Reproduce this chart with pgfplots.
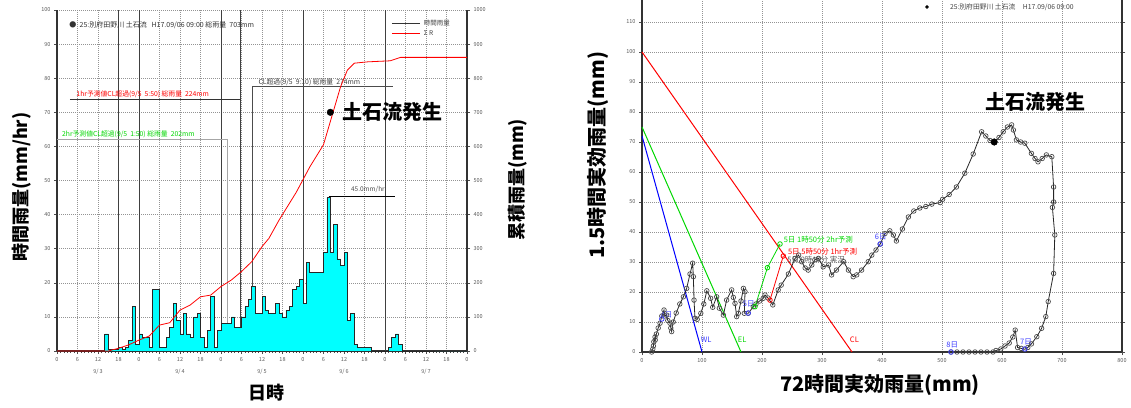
\documentclass[border=0pt]{standalone}
\usepackage{pgfplots}
\pgfplotsset{compat=1.18}
\usepackage{fontspec}
\setmainfont{Noto Sans CJK JP}
\definecolor{lgreen}{RGB}{0,215,0}
\definecolor{lblue}{RGB}{60,60,255}
\definecolor{tickgray}{RGB}{90,90,90}
\definecolor{hist}{RGB}{0,255,255}
\begin{document}
\begin{tikzpicture}
\path[use as bounding box] (0pt,0pt) rectangle (1131pt,407pt);
\pgfplotsset{
 every axis/.append style={
  scale only axis, anchor=south west,
  tick label style={font=\fontsize{5.5}{6}\selectfont, text=tickgray},
  /pgf/number format/assume math mode=true,
  /pgf/number format/1000 sep={},
  grid style={gray!85, line width=0.5pt, dash pattern=on 1pt off 1pt},
  axis line style={line width=1.3pt, black!80},
  tick style={black!70, line width=0.5pt},
  tick align=outside,
  major tick length=3pt, minor tick length=2pt,
 }
}
% ---------------- left panel: hourly rainfall ----------------
\begin{axis}[at={(57pt,56pt)}, width=410pt, height=341pt,
 xmin=0,xmax=120,ymin=0,ymax=100,
 axis x line*=bottom, axis y line*=left,
 xtick={0,6,...,120},
 xticklabels={0,6,12,18,0,6,12,18,0,6,12,18,0,6,12,18,0,6,12,18,0},
 minor x tick num=5,
 ytick={0,10,...,100},
 grid=major, clip=false]
% day / event lines
\addplot[black!75, line width=1pt] coordinates {(18,0) (18,100)};
\addplot[black!75, line width=1pt] coordinates {(24,0) (24,100)};
\addplot[black!75, line width=1pt] coordinates {(48,0) (48,100)};
\addplot[black!75, line width=1pt] coordinates {(53.83,0) (53.83,100)};
\addplot[black!75, line width=1pt] coordinates {(72,0) (72,100)};
\addplot[black!75, line width=1pt] coordinates {(96,0) (96,100)};
\addplot[black!80, line width=0.7pt] coordinates {(3.8,73.9) (53.83,73.9)};
\addplot[gray!70, line width=0.7pt] coordinates {(0,62.1) (49.83,62.1) (49.83,0)};
\addplot[black!70, line width=0.6pt] coordinates {(57.17,0) (57.17,77.5) (98.4,77.5)};
% histogram
\addplot[const plot, fill=hist, draw=black!85, line width=0.8pt] coordinates {
(0,0) (14,5) (15,0.5) (18,1) (19,0.5) (20,1) (21,3) (22,13) (23,2) (24,5) (25,4)
(27,1) (28,18) (30,1) (32,4) (33,7) (34,14) (35,9) (36,5) (37,11) (38,5) (39,4)
(40,10) (41,11) (42,4) (43,1) (44,6) (45,16) (46,1) (47,6) (48,8) (51,10) (52,7)
(54,10) (55,13) (56,15) (57,19) (58,11) (60,16) (61,12) (62,11) (64,14) (65,11)
(66,10) (67,12) (68,13) (69,18) (70,19) (71,21) (72,14) (73,26) (74,23) (78,29)
(79,45) (80,29) (81,37) (82,27) (83,25) (84,29) (85,9) (86,11) (87,2) (88,1)
(92,0) (97,1) (98,4) (99,5) (100,2) (101,0) (120,0)} \closedcycle;
\addplot[black, line width=0.6pt] coordinates {(79.5,45.3) (99,45.3)};
\node[font=\fontsize{6.5}{7}\selectfont, text=black!70] at (axis cs:91,47.4) {45.0mm/hr};
% annotations
\node[anchor=south west, inner sep=0.5pt, font=\fontsize{6.8}{7}\selectfont, text=red] at (axis cs:5.5,74.1) {1hr予測値CL超過(9/5\ \ 5:50) 総雨量\ \ 224mm};
\node[anchor=south west, inner sep=0.5pt, font=\fontsize{6.8}{7}\selectfont, text=lgreen] at (axis cs:1.3,62.3) {2hr予測値CL超過(9/5\ \ 1:50) 総雨量\ \ 202mm};
\node[anchor=south west, inner sep=0.5pt, font=\fontsize{6.8}{7}\selectfont, text=black!75] at (axis cs:58.8,77.7) {CL超過(9/5\ \ 9:10) 総雨量\ \ 274mm};
\node[anchor=west, inner sep=0, font=\fontsize{7}{7}\selectfont, text=black!80] at (axis cs:3.6,95.6) {●\ \ 25:別府田野川\ 土石流\ \ \ H17.09/06\ 09:00\ 総雨量\ \ 703mm};
% legend
\addplot[black!80, line width=0.8pt] coordinates {(98,96.1) (106.3,96.1)};
\addplot[red, line width=0.8pt] coordinates {(98,93.1) (106.3,93.1)};
\node[anchor=west, inner sep=0, font=\fontsize{6.5}{7}\selectfont, text=black!75] at (axis cs:107.3,96.1) {時間雨量};
\node[anchor=west, inner sep=0, font=\fontsize{6.5}{7}\selectfont, text=black!75] at (axis cs:107.3,93.1) {Σ R};
% dates
\node[font=\fontsize{5.5}{6}\selectfont, text=tickgray, yshift=-21pt] at (axis cs:12,0) {9/ 3};
\node[font=\fontsize{5.5}{6}\selectfont, text=tickgray, yshift=-21pt] at (axis cs:36,0) {9/ 4};
\node[font=\fontsize{5.5}{6}\selectfont, text=tickgray, yshift=-21pt] at (axis cs:60,0) {9/ 5};
\node[font=\fontsize{5.5}{6}\selectfont, text=tickgray, yshift=-21pt] at (axis cs:84,0) {9/ 6};
\node[font=\fontsize{5.5}{6}\selectfont, text=tickgray, yshift=-21pt] at (axis cs:108,0) {9/ 7};
\node[anchor=west, font=\bfseries\fontsize{20}{20}\selectfont] at (axis cs:82.5,70.2) {土石流発生};
\end{axis}
% cumulative rainfall (right axis)
\begin{axis}[at={(57pt,56pt)}, width=410pt, height=341pt,
 xmin=0,xmax=120,ymin=0,ymax=1000,
 axis y line*=right, axis x line=none,
 ytick={0,100,...,1000}]
\addplot[red, line width=0.8pt] coordinates {
(0,0) (15,0) (18,8) (21,18) (24,32) (27,44) (30,76) (33,83) (36,120) (39,135)
(42,159) (45,164) (48,189) (51,208) (54,233) (57,262) (60,306) (62,330) (65,384)
(70,465) (74,540) (78,605) (80.5,690) (83,775) (85,824) (87,844) (91,848)
(97.5,851) (100.5,861) (120,861)};
\addplot[only marks, mark=*, mark size=3.3pt, black] coordinates {(80,700)};
\end{axis}
% ---------------- right panel: snake line ----------------
\begin{axis}[at={(642pt,55pt)}, width=480pt, height=352pt,
 xmin=0,xmax=800,ymin=0,ymax=117.33,
 axis x line*=bottom, axis y line*=box,
 xtick={0,100,...,800}, ytick={0,10,...,110},
 grid=major, clip=false]
\addplot[red, line width=1pt] coordinates {(0,100) (350,0)};
\addplot[lgreen, line width=1pt] coordinates {(0,75) (165,0)};
\addplot[blue, line width=1pt] coordinates {(0,72) (100,0)};
\addplot[black!85, line width=0.8pt, mark=o, mark size=2.3pt, mark options={black!70, line width=0.7pt}] coordinates {
(16,0) (18,1) (19,2) (19.7,3.4) (21.7,5) (22,4) (24,6) (27,8) (30,9.6) (33,12)
(36.7,14) (38,12) (41,12.3) (43,10.5) (46.7,9.6) (48,8) (49.4,6.8) (52,10) (57,13)
(63,16) (69,18.4) (74.4,21.2) (80,26) (84.4,29.6) (85.6,25.1) (86.7,17.3) (88.3,11.2)
(92,10.9) (98,12.9) (103,16) (108,20.4) (114.4,17.9) (117.8,14.9) (124.4,18.4)
(128.9,14.6) (135.6,12.3) (141,17.3) (149.4,20.7) (152.2,18.2) (155,16.2) (157.8,11.8)
(160.5,12.9) (165,17) (169,21.2) (171.7,20.1) (170.5,12.9) (177,12.9) (185.5,15.1)
(190,16) (196,17) (202,17.9) (205,19) (210,18) (218,15.7) (227,20.7) (232,22.3)
(244,26) (255,31.2) (261,32.3) (266,30.1) (272,28) (277,27.3) (283,29) (288,30.7)
(294,31.2) (302,28.4) (311,29) (316,25.7) (324,27.3) (336,30.1) (344,27.3) (352,25.1)
(357.8,25.7) (366,27.3) (377,30.1) (383,32.3) (390,34) (397,36) (405,39.5) (413,40.4)
(419,39) (424,37) (434,41) (444,45) (453,47) (463,48) (473,48.5) (483,49.3) (497,49.8)
(501,50.9) (512,52.5) (524,55) (538,59.6) (552,66) (566,73.4) (573,72) (580,70.5)
(587,69.8) (595,71.5) (602,73.4) (609,75) (616,75.7) (619,74) (624,70.7) (631,70)
(638,69.6) (649,66.2) (655,64.5) (660,63.4) (667,64.5) (674,65.7) (683,65.1) (686,55)
(686,50) (684,48.2) (688,39) (686,26.2) (677,16.8) (673,11.8) (666,7.9) (658,5.1)
(649,2.7) (643,1.5) (638,0.9) (632,1.2) (626,1.5) (622,7.3) (618,5) (612,3) (605,2)
(598,1) (590,0.5) (585,0) (575,0) (565,0) (555,0) (545,0) (535,0) (525,0) (515,0)};
\addplot[lgreen, line width=0.8pt, mark=o, mark size=2.3pt] coordinates {(188.3,15.1) (209,28.1) (230,36)};
\addplot[red, line width=0.8pt, mark=o, mark size=2.3pt] coordinates {(213.3,17.3) (235.5,32)};
\addplot[only marks, lblue, mark=o, mark size=2.3pt, line width=0.8pt] coordinates {(33,11) (177,13) (397,36) (638,1) (515,0)};
\addplot[only marks, mark=*, mark size=3.3pt, black] coordinates {(587,70)};
\addplot[only marks, mark=*, mark size=1.5pt, black] coordinates {(475,115)};
\node[anchor=west, inner sep=0, font=\fontsize{6.8}{7}\selectfont, text=black!75] at (axis cs:513,115) {25:別府田野川\ 土石流\ \ \ \ \ H17.09/06\ 09:00};
\node[text=lblue, font=\fontsize{7.5}{8}\selectfont, inner sep=0] at (axis cs:41,12.5) {4日};
\node[text=lblue, font=\fontsize{7.5}{8}\selectfont, inner sep=0] at (axis cs:178,16) {5日};
\node[text=lblue, font=\fontsize{7.5}{8}\selectfont, inner sep=0] at (axis cs:398,38.5) {6日};
\node[text=lblue, font=\fontsize{7.5}{8}\selectfont, inner sep=0] at (axis cs:640,3.4) {7日};
\node[text=lblue, font=\fontsize{7.5}{8}\selectfont, inner sep=0] at (axis cs:517,2.4) {8日};
\node[text=lblue, font=\fontsize{7.5}{8}\selectfont, inner sep=0] at (axis cs:107,4) {WL};
\node[text=lgreen, font=\fontsize{7.5}{8}\selectfont, inner sep=0] at (axis cs:167,4) {EL};
\node[text=red, font=\fontsize{7.5}{8}\selectfont, inner sep=0] at (axis cs:354,4) {CL};
\node[anchor=west, text=lgreen, font=\fontsize{7.5}{8}\selectfont, inner sep=0] at (axis cs:236,37.3) {5日\ 1時50分\ 2hr予測};
\node[anchor=west, text=red, font=\fontsize{7.5}{8}\selectfont, inner sep=0] at (axis cs:243,33.4) {5日\ 5時50分\ 1hr予測};
\node[anchor=west, text=black!65, font=\fontsize{7.5}{8}\selectfont, inner sep=0] at (axis cs:242,30.9) {5日\ 9時10分\ 実況};
\node[font=\bfseries\fontsize{20}{20}\selectfont] at (axis cs:656,83.4) {土石流発生};
\end{axis}
% axis titles
\node[rotate=90, font=\bfseries\fontsize{18}{18}\selectfont] at (22pt,220pt) {時間雨量(mm/hr)};
\node[rotate=90, font=\bfseries\fontsize{18}{18}\selectfont] at (518pt,227pt) {累積雨量(mm)};
\node[font=\bfseries\fontsize{18}{18}\selectfont] at (266pt,14pt) {日時};
\node[rotate=90, font=\bfseries\fontsize{20}{20}\selectfont] at (598pt,252pt) {1.5時間実効雨量(mm)};
\node[font=\bfseries\fontsize{20}{20}\selectfont] at (880pt,22pt) {72時間実効雨量(mm)};
\end{tikzpicture}
\end{document}
